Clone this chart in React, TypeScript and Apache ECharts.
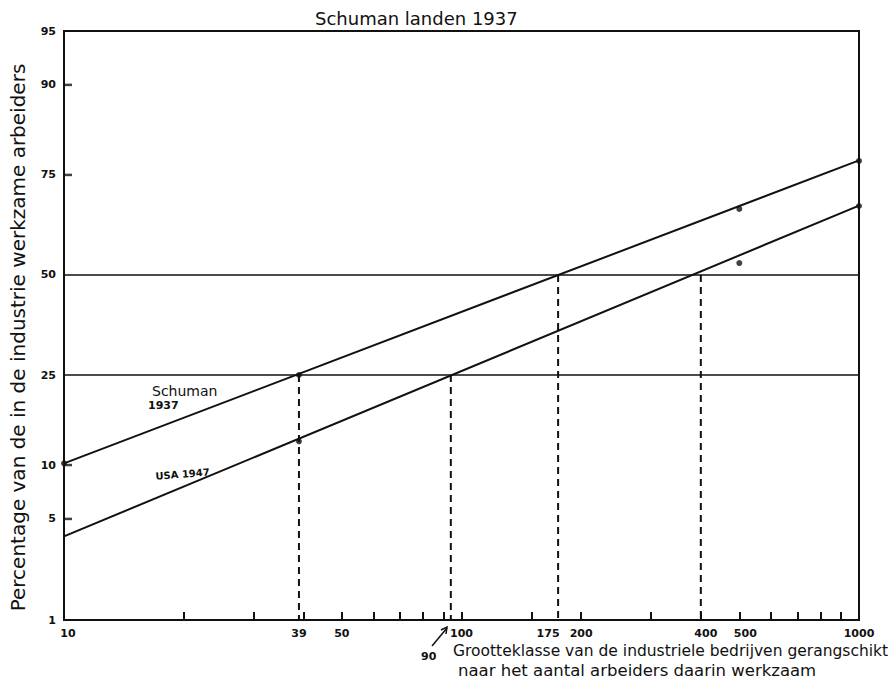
import React, { useEffect, useRef } from "react";
import * as echarts from "echarts";

// ---- data ----
const xLabelValues = [10, 39, 50, 100, 175, 200, 400, 500, 1000];
const xTickValues = [20, 30, 40, 50, 60, 70, 80, 90, 100, 150, 200, 300, 400, 500, 600, 700, 800, 900];
const yLabelValues = [1, 5, 10, 25, 50, 75, 90, 95];
const yTickValues = [5, 10, 75, 90];

// fitted lines: [size, percentage]
const schumanLine = [[10, 10.2], [1000, 78]];
const usaLine = [[10, 3.9], [1000, 68]];
// observed points
const schumanPoints = [[10, 10.2], [39, 25], [500, 67.2], [1000, 77.9]];
const usaPoints = [[39, 13.1], [500, 53.2], [1000, 67.9]];
// reference levels and read-offs
const horizontalLevels = [25, 50];
const dropLines = [[39, 25], [94, 25], [175, 50], [400, 50]];

const FONT = "DejaVu Sans";

function probit(p: number): number {
  const a = [-3.969683028665376e1, 2.209460984245205e2, -2.759285104469687e2, 1.38357751867269e2, -3.066479806614716e1, 2.506628277459239];
  const b = [-5.447609879822406e1, 1.615858368580409e2, -1.556989798598866e2, 6.680131188771972e1, -1.328068155288572e1];
  const c = [-7.784894002430293e-3, -3.223964580411365e-1, -2.400758277161838, -2.549732539343734, 4.374664141464968, 2.938163982698783];
  const d = [7.784695709041462e-3, 3.224671290700398e-1, 2.445134137142996, 3.754408661907416];
  const pl = 0.02425;
  const ph = 1 - pl;
  let q: number, r: number;
  if (p < pl) {
    q = Math.sqrt(-2 * Math.log(p));
    return (((((c[0] * q + c[1]) * q + c[2]) * q + c[3]) * q + c[4]) * q + c[5]) / ((((d[0] * q + d[1]) * q + d[2]) * q + d[3]) * q + 1);
  }
  if (p <= ph) {
    q = p - 0.5;
    r = q * q;
    return ((((((a[0] * r + a[1]) * r + a[2]) * r + a[3]) * r + a[4]) * r + a[5]) * q) / (((((b[0] * r + b[1]) * r + b[2]) * r + b[3]) * r + b[4]) * r + 1);
  }
  q = Math.sqrt(-2 * Math.log(1 - p));
  return -(((((c[0] * q + c[1]) * q + c[2]) * q + c[3]) * q + c[4]) * q + c[5]) / ((((d[0] * q + d[1]) * q + d[2]) * q + d[3]) * q + 1);
}

const tx = (n: number) => Math.log10(n);
const ty = (pct: number) => probit(pct / 100);
const pt = (d: number[]) => [tx(d[0]), ty(d[1])];

// per-label nudges to mimic the hand lettering placement
const xLabelStyle: Record<number, string> = { 10: "l", 175: "r", 400: "s", 500: "t" };

export default function App() {
  const ref = useRef<HTMLDivElement>(null);
  useEffect(() => {
    if (!ref.current) return;
    const chart = echarts.init(ref.current, null, { renderer: "svg" });
    const black = "#111";
    const series: any[] = [];
    horizontalLevels.forEach((lv) => {
      series.push({
        type: "line",
        data: [pt([10, lv]), pt([1000, lv])],
        symbol: "none",
        lineStyle: { color: black, width: 1.6 },
        silent: true,
      });
    });
    dropLines.forEach((dl) => {
      series.push({
        type: "line",
        data: [pt([dl[0], dl[1]]), pt([dl[0], 1])],
        symbol: "none",
        lineStyle: { color: black, width: 2, type: [7, 5] },
        silent: true,
      });
    });
    // y-axis inner tick marks: small bars anchored on the axis
    series.push({
      type: "scatter",
      data: yTickValues.map((v) => pt([10, v])),
      symbol: "rect",
      symbolSize: [8, 2.5],
      symbolOffset: [4, 0],
      itemStyle: { color: black },
      silent: true,
      z: 5,
    });
    series.push({
      name: "Schuman 1937",
      type: "line",
      data: schumanLine.map(pt),
      symbol: "none",
      lineStyle: { color: black, width: 2 },
    });
    series.push({
      name: "USA 1947",
      type: "line",
      data: usaLine.map(pt),
      symbol: "none",
      lineStyle: { color: black, width: 2 },
    });
    series.push({
      type: "scatter",
      data: schumanPoints.map(pt),
      symbolSize: 6,
      itemStyle: { color: black },
    });
    series.push({
      type: "scatter",
      data: usaPoints.map(pt),
      symbolSize: 6,
      itemStyle: { color: black },
    });

    const labelText = { fontFamily: FONT, fontSize: 11, fontWeight: "bold" as const, color: black };

    chart.setOption({
      animation: false,
      backgroundColor: "#fff",
      title: {
        text: "Schuman landen 1937",
        left: 310,
        top: 4,
        textStyle: { fontFamily: FONT, fontSize: 18, fontWeight: "normal", color: black },
      },
      grid: {
        left: 59,
        top: 31,
        width: 800,
        height: 589,
        show: true,
        borderColor: black,
        borderWidth: 2,
        containLabel: false,
      },
      xAxis: {
        type: "value",
        min: 1,
        max: 3,
        axisLine: { onZero: false, lineStyle: { color: black, width: 2 } },
        axisTick: {
          show: true,
          inside: true,
          length: 8,
          lineStyle: { color: black, width: 2 },
          customValues: xTickValues.map(tx),
        },
        axisLabel: {
          customValues: xLabelValues.map(tx),
          formatter: (v: number) => {
            const n = Math.round(Math.pow(10, v));
            const s = xLabelStyle[n];
            return s ? `{${s}|${n}}` : String(n);
          },
          ...labelText,
          margin: 8,
          rich: {
            l: { ...labelText, padding: [0, 0, 0, 8] },
            r: { ...labelText, padding: [0, 20, 0, 0] },
            s: { ...labelText, padding: [0, 0, 0, 10] },
            t: { ...labelText, padding: [0, 0, 0, 12] },
          },
        },
        splitLine: { show: false },
      },
      yAxis: {
        type: "value",
        min: ty(1),
        max: ty(95),
        name: "Percentage van de in de industrie werkzame arbeiders",
        nameLocation: "middle",
        nameRotate: 90,
        nameGap: 36,
        nameTextStyle: { fontFamily: FONT, fontSize: 20, color: black, padding: [0, 24, 0, 0] },
        axisLine: { show: true, onZero: false, lineStyle: { color: black, width: 2 } },
        axisTick: { show: false },
        axisLabel: {
          customValues: yLabelValues.map(ty),
          formatter: (v: number) => {
            const i = yLabelValues.findIndex((p) => Math.abs(ty(p) - v) < 1e-6);
            return i >= 0 ? String(yLabelValues[i]) : "";
          },
          ...labelText,
          margin: 8,
        },
        splitLine: { show: false },
      },
      graphic: [
        { type: "text", left: 152, top: 384, style: { text: "Schuman", fontFamily: FONT, fontSize: 14, fill: black } },
        { type: "text", left: 148, top: 400, style: { text: "1937", fontFamily: FONT, fontSize: 11, fontWeight: "bold", fill: black } },
        { type: "text", left: 155, top: 467, rotation: 0.08, style: { text: "USA 1947", fontFamily: FONT, fontSize: 10, fontWeight: "bold", fill: black } },
        { type: "text", left: 421, top: 651, style: { text: "90", fontFamily: FONT, fontSize: 11, fontWeight: "bold", fill: black } },
        { type: "line", shape: { x1: 432, y1: 646, x2: 447, y2: 628 }, style: { stroke: black, lineWidth: 1.5 } },
        { type: "polyline", shape: { points: [[441, 630], [447, 627], [446, 634]] }, style: { stroke: black, lineWidth: 1.5, fill: "none" } },
        { type: "text", left: 453, top: 643, style: { text: "Grootteklasse van de industriele bedrijven gerangschikt", fontFamily: FONT, fontSize: 15.5, fill: black } },
        { type: "text", left: 458, top: 662, style: { text: "naar het aantal arbeiders daarin werkzaam", fontFamily: FONT, fontSize: 16.5, fill: black } },
      ],
      series,
    });
    return () => chart.dispose();
  }, []);
  return <div ref={ref} style={{ position: "fixed", left: 0, top: 0, width: 893, height: 684 }} />;
}
